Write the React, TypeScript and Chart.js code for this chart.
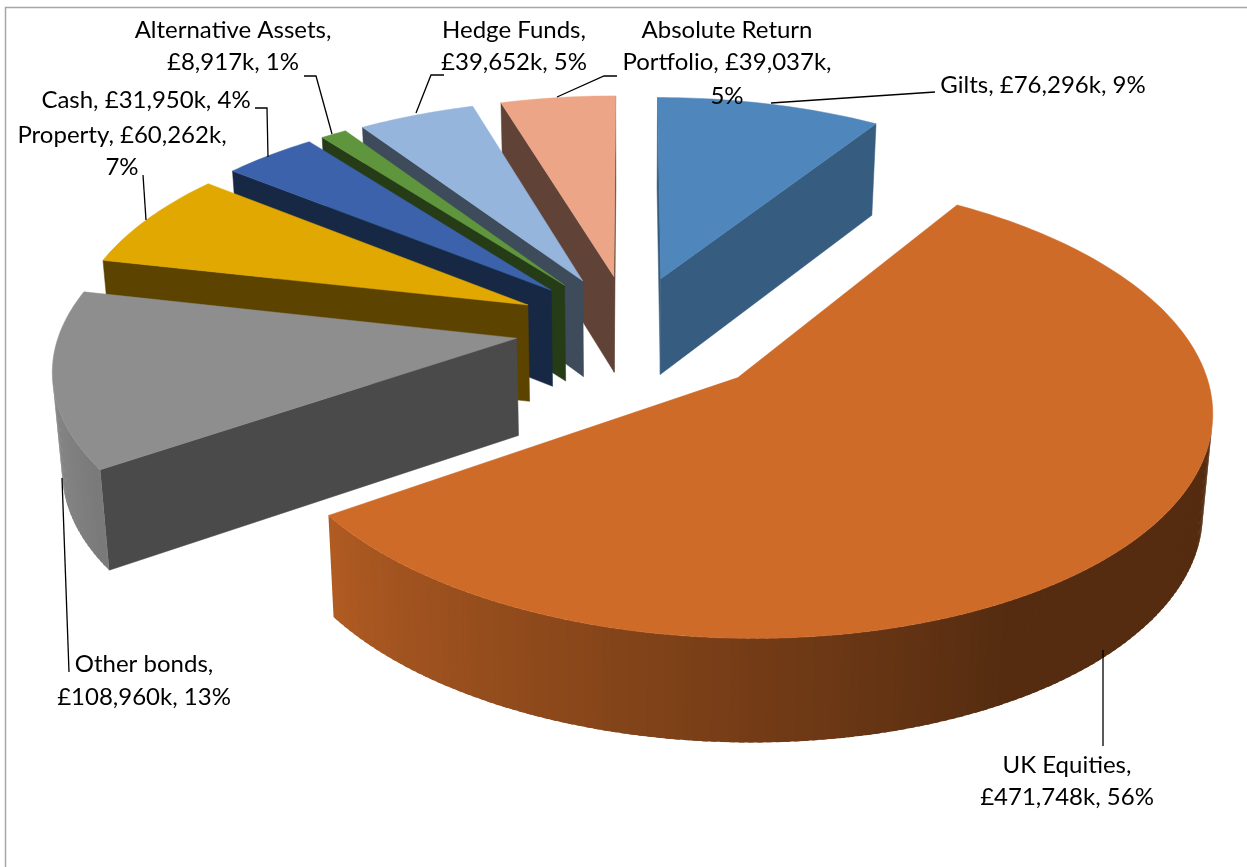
import React, { useEffect, useRef } from "react";
import { Chart, registerables } from "chart.js";

Chart.register(...registerables);

const categories = ["Gilts", "UK Equities", "Other bonds", "Property", "Cash", "Alternative Assets", "Hedge Funds", "Absolute Return Portfolio"];
const valuesK = [76296, 471748, 108960, 60262, 31950, 8917, 39652, 39037];
const explosion = [92, 120, 94, 94, 94, 94, 93, 93];
const topColors = ["#4F86BB", "#CF6B28", "#8E8E8E", "#E0A800", "#3B62AA", "#5F963D", "#95B5DD", "#EDA587"];
const faceColors = ["#365C80", "#5A2C0F", "#4A4A4A", "#5C4400", "#172845", "#263C17", "#3D4B5B", "#604236"];

type LabelLayout = { lines: [string, number, number][]; leader: [number, number][] };
const labelLayout: LabelLayout[] = [
  { lines: [["Gilts, £76,296k, 9%", 1043, 93]], leader: [[935, 92], [771, 103]] },
  { lines: [["UK Equities,", 1067, 773], ["£471,748k, 56%", 1067, 805]], leader: [[1103, 650], [1103, 746]] },
  { lines: [["Other bonds,", 144, 672], ["£108,960k, 13%", 144, 705]], leader: [[62, 478], [69, 672]] },
  { lines: [["Property, £60,262k,", 122, 143], ["7%", 122, 175]], leader: [[143, 175], [146, 220]] },
  { lines: [["Cash, £31,950k, 4%", 146, 108]], leader: [[255, 108], [267, 108], [268, 157]] },
  { lines: [["Alternative Assets,", 233, 38], ["£8,917k, 1%", 233, 70]], leader: [[304, 76], [316, 76], [332, 134]] },
  { lines: [["Hedge Funds,", 514, 38], ["£39,652k, 5%", 514, 70]], leader: [[444, 75], [431, 75], [416, 113]] },
  { lines: [["Absolute Return", 727, 38], ["Portfolio, £39,037k,", 727, 70], ["5%", 727, 104]], leader: [[617, 76], [604, 76], [557, 97]] },
];

// Camera model of the tilted pie
const CAM = { cx: 630, cy: 328, S: 456, T: 215, k: 0.124, H: 97, c: 0.017 };

function project(U: number, V: number, Z: number): [number, number] {
  const w = 1 - CAM.k * V;
  const wz = 1 - 0.45 * CAM.k * V;
  return [
    CAM.cx + (CAM.S * U * (1 - CAM.c * Z)) / w,
    CAM.cy + (CAM.T * V) / w + (Z * CAM.H) / wz,
  ];
}

function shade(hex: string, f: number): string {
  const n = parseInt(hex.slice(1), 16);
  const r = Math.round(((n >> 16) & 255) * f);
  const g = Math.round(((n >> 8) & 255) * f);
  const b = Math.round((n & 255) * f);
  return `rgb(${r},${g},${b})`;
}

function wallFactor(angle: number): number {
  const deg = (((angle + Math.PI / 2) * 180) / Math.PI + 360) % 360;
  const t = 0.41 + ((deg - 150) / 85) * 0.44;
  return Math.min(0.92, Math.max(0.41, t));
}

function area(pts: [number, number][]): number {
  let s = 0;
  for (let i = 0; i < pts.length; i++) {
    const a = pts[i];
    const b = pts[(i + 1) % pts.length];
    s += a[0] * b[1] - b[0] * a[1];
  }
  return s;
}

function poly(ctx: CanvasRenderingContext2D, pts: [number, number][], color: string, stroke = true) {
  ctx.beginPath();
  pts.forEach((p, i) => (i ? ctx.lineTo(p[0], p[1]) : ctx.moveTo(p[0], p[1])));
  ctx.closePath();
  ctx.fillStyle = color;
  ctx.fill();
  if (stroke) {
    ctx.strokeStyle = color;
    ctx.lineWidth = 0.5;
    ctx.stroke();
  }
}

const pie3d = {
  id: "pie3d",
  beforeDatasetsDraw(chart: any) {
    const ctx: CanvasRenderingContext2D = chart.ctx;
    const arcs = chart.getDatasetMeta(0).data.map((el: any, index: number) => {
      const p = el.getProps(["startAngle", "endAngle", "outerRadius"], true);
      return { index, start: p.startAngle, end: p.endAngle, e: el.options.offset / p.outerRadius };
    });
    arcs.sort((a: any, b: any) => Math.sin((a.start + a.end) / 2) - Math.sin((b.start + b.end) / 2));
    const step = Math.PI / 180;

    for (const a of arcs) {
      const mid = (a.start + a.end) / 2;
      const ox = a.e * Math.cos(mid);
      const oy = a.e * Math.sin(mid);
      const rim = (t: number, z: number) => project(ox + Math.cos(t), oy + Math.sin(t), z);
      const apex = (z: number) => project(ox, oy, z);
      const top = topColors[a.index];

      const faceS: [number, number][] = [apex(0), rim(a.start, 0), rim(a.start, 1), apex(1)];
      if (area(faceS) < 0) poly(ctx, faceS, faceColors[a.index]);
      const faceE: [number, number][] = [rim(a.end, 0), apex(0), apex(1), rim(a.end, 1)];
      if (area(faceE) < 0) poly(ctx, faceE, faceColors[a.index]);

      const n = Math.max(2, Math.ceil((a.end - a.start) / step));
      const dt = (a.end - a.start) / n;
      for (let i = n - 1; i >= 0; i--) {
        const t1 = a.start + i * dt;
        const t2 = t1 + dt;
        const probe: [number, number][] = [rim(t1, 0), rim(t2, 0), rim(t2, 1), rim(t1, 1)];
        if (area(probe) >= 0) continue;
        const t3 = i === n - 1 ? t2 : t2 + dt * 0.6;
        const quad: [number, number][] = [rim(t1, 0), rim(t3, 0), rim(t3, 1), rim(t1, 1)];
        poly(ctx, quad, shade(top, wallFactor((t1 + t2) / 2)), false);
      }

      const surface: [number, number][] = [apex(0)];
      for (let i = 0; i <= n; i++) surface.push(rim(a.start + i * dt, 0));
      poly(ctx, surface, top);
    }
    return false;
  },
  afterDraw(chart: any) {
    const ctx: CanvasRenderingContext2D = chart.ctx;
    ctx.save();
    ctx.strokeStyle = "#A6A6A6";
    ctx.lineWidth = 1.5;
    ctx.beginPath();
    ctx.moveTo(5.5, 867);
    ctx.lineTo(5.5, 7.5);
    ctx.lineTo(1247, 7.5);
    ctx.stroke();

    ctx.fillStyle = "#000";
    ctx.strokeStyle = "#000";
    ctx.lineWidth = 1.3;
    ctx.font = '24px Lato, "Noto Sans", sans-serif';
    ctx.textAlign = "center";
    ctx.textBaseline = "alphabetic";
    for (const l of labelLayout) {
      ctx.beginPath();
      l.leader.forEach((p, i) => (i ? ctx.lineTo(p[0], p[1]) : ctx.moveTo(p[0], p[1])));
      ctx.stroke();
      for (const [t, x, y] of l.lines) ctx.fillText(t, x, y);
    }
    ctx.restore();
  },
};

export default function App() {
  const ref = useRef<HTMLCanvasElement>(null);
  useEffect(() => {
    const chart = new Chart(ref.current as HTMLCanvasElement, {
      type: "pie",
      data: {
        labels: categories,
        datasets: [{ data: valuesK, backgroundColor: topColors, offset: explosion, borderWidth: 0 }],
      },
      options: {
        animation: false,
        responsive: false,
        layout: { padding: 0 },
        plugins: { legend: { display: false }, tooltip: { enabled: false } },
      },
      plugins: [pie3d],
    } as any);
    return () => chart.destroy();
  }, []);
  return (
    <div style={{ position: "fixed", left: 0, top: 0, width: 1247, height: 867, background: "#fff" }}>
      <canvas ref={ref} width={1247} height={867} style={{ display: "block" }} />
    </div>
  );
}
